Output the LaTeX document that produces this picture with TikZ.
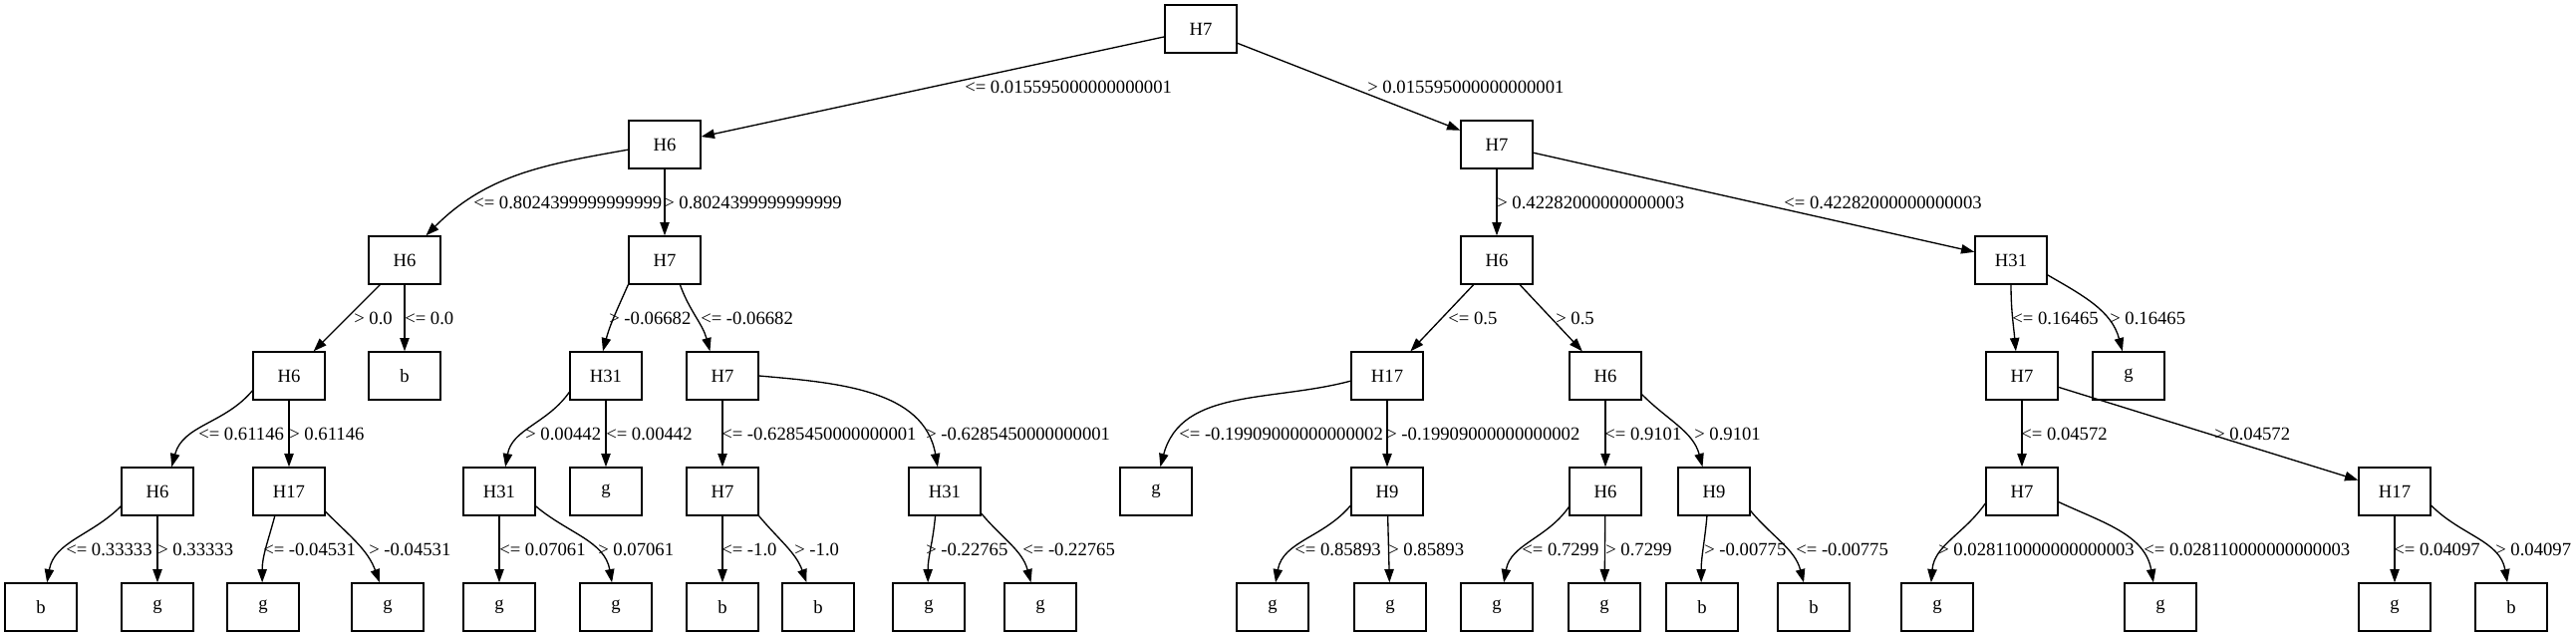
\documentclass[tikz,border=0pt]{standalone}
\usepackage{fontspec}
\setmainfont{Liberation Serif}
\usetikzlibrary{arrows.meta}

\begin{document}
\begin{tikzpicture}[x=0.75pt, y=0.75pt, box/.style={draw, rectangle, minimum width=54pt, minimum height=36pt, inner sep=0pt, line width=1pt, font=\fontsize{14}{16}\selectfont}, lbl/.style={anchor=west, inner sep=0pt, font=\fontsize{14}{16}\selectfont}, arr/.style={draw, line width=1pt, -{Triangle[length=10pt, width=7pt]}}]

\useasboundingbox (0,0) rectangle (2585,-639);

% Nodes
\node[box] (a1) at (1205,-29) {H7};

\node[box] (b1) at (667,-145) {H6};
\node[box] (b2) at (1502,-145) {H7};

\node[box] (c1) at (406,-261) {H6};
\node[box] (c2) at (667,-261) {H7};
\node[box] (c3) at (1502,-261) {H6};
\node[box] (c4) at (2018,-261) {H31};

\node[box] (d1) at (290,-377) {H6};
\node[box] (d2) at (406,-377) {b};
\node[box] (d3) at (608,-377) {H31};
\node[box] (d4) at (725,-377) {H7};
\node[box] (d5) at (1392,-377) {H17};
\node[box] (d6) at (1611,-377) {H6};
\node[box] (d7) at (2029,-377) {H7};
\node[box] (d8) at (2136,-377) {g};

\node[box] (e1) at (158,-493) {H6};
\node[box] (e2) at (290,-493) {H17};
\node[box] (e3) at (501,-493) {H31};
\node[box] (e4) at (608,-493) {g};
\node[box] (e5) at (725,-493) {H7};
\node[box] (e6) at (948,-493) {H31};
\node[box] (e7) at (1160,-493) {g};
\node[box] (e8) at (1392,-493) {H9};
\node[box] (e9) at (1611,-493) {H6};
\node[box] (e10) at (1720,-493) {H9};
\node[box] (e11) at (2029,-493) {H7};
\node[box] (e12) at (2403,-493) {H17};

\node[box] (f1) at (41,-609) {b};
\node[box] (f2) at (158,-609) {g};
\node[box] (f3) at (264,-609) {g};
\node[box] (f4) at (389,-609) {g};
\node[box] (f5) at (501,-609) {g};
\node[box] (f6) at (618,-609) {g};
\node[box] (f7) at (725,-609) {b};
\node[box] (f8) at (821,-609) {b};
\node[box] (f9) at (932,-609) {g};
\node[box] (f10) at (1044,-609) {g};
\node[box] (f11) at (1277,-609) {g};
\node[box] (f12) at (1395,-609) {g};
\node[box] (f13) at (1502,-609) {g};
\node[box] (f14) at (1610,-609) {g};
\node[box] (f15) at (1708,-609) {b};
\node[box] (f16) at (1820,-609) {b};
\node[box] (f17) at (1944,-609) {g};
\node[box] (f18) at (2168,-609) {g};
\node[box] (f19) at (2403,-609) {g};
\node[box] (f20) at (2520,-609) {b};

% Arrows
\draw[arr] (a1) -- (b1);
\draw[arr] (a1) -- (b2);

\draw[arr] (b1.188) to[out=190,in=45] (c1.49);
\draw[arr] (b1) -- (c2);
\draw[arr] (b2) -- (c3);
\draw[arr] (b2) -- (c4);

\draw[arr] (c1) -- (d1);
\draw[arr] (c1) -- (d2);
\draw[arr] (c2.south west) to[out=246,in=75] (d3.97);
\draw[arr] (c2.-58) to[out=-70,in=105] (d4.117);
\draw[arr] (c3) -- (d5);
\draw[arr] (c3) -- (d6);
\draw[arr] (c4.south) to[out=-90,in=95] (d7.104);
\draw[arr] (c4.-22) to[out=-30,in=105] (d8.104);

\draw[arr] (d1.202) to[out=230,in=75] (e1.60);
\draw[arr] (d1) -- (e2);
\draw[arr] (d3.204) to[out=235,in=80] (e3.76);
\draw[arr] (d3) -- (e4);
\draw[arr] (d4) -- (e5);
\draw[arr] (d4.0) to[out=-5,in=100] (e6.106);
\draw[arr] (d5.188) to[out=195,in=75] (e7.80);
\draw[arr] (d5) -- (e8);
\draw[arr] (d6) -- (e9);
\draw[arr] (d6.-27) to[out=-45,in=105] (e10.115);
\draw[arr] (d7) -- (e11);
\draw[arr] (d7) -- (e12);

\draw[arr] (e1.202) to[out=225,in=80] (f1.76);
\draw[arr] (e1) -- (f2);
\draw[arr] (e2.240) to[out=255,in=90] (f3.92);
\draw[arr] (e2.-29) to[out=-45,in=110] (f4.108);
\draw[arr] (e3) -- (f5);
\draw[arr] (e3.-22) to[out=-40,in=100] (f6.99);
\draw[arr] (e5) -- (f7);
\draw[arr] (e5.south east) to[out=-50,in=110] (f8.115);
\draw[arr] (e6.249) to[out=-95,in=90] (f9.92);
\draw[arr] (e6.-31) to[out=-50,in=105] (f10.111);
\draw[arr] (e8.201) to[out=230,in=80] (f11.83);
\draw[arr] (e8) -- (f12);
\draw[arr] (e9.203) to[out=235,in=80] (f13.74);
\draw[arr] (e9) -- (f14);
\draw[arr] (e10.254) to[out=-95,in=90] (f15.92);
\draw[arr] (e10.-28) to[out=-50,in=105] (f16.112);
\draw[arr] (e11.198) to[out=235,in=85] (f17.104);
\draw[arr] (e11.-16) to[out=-25,in=100] (f18.106);
\draw[arr] (e12) -- (f19);
\draw[arr] (e12.-21) to[out=-45,in=100] (f20.99);

% Labels
\node[lbl] (tb1) at (968,-87) {<= 0.015595000000000001};
\node[lbl] (tb2) at (1372,-87) {> 0.015595000000000001};

\node[lbl] (tc1) at (475,-203) {<= 0.8024399999999999};
\node[lbl] (tc2) at (666,-203) {> 0.8024399999999999};
\node[lbl] (tc3) at (1502,-203) {> 0.42282000000000003};
\node[lbl] (tc4) at (1790,-203) {<= 0.42282000000000003};

\node[lbl] (td1) at (355,-319) {> 0.0};
\node[lbl] (td2) at (406,-319) {<= 0.0};
\node[lbl] (td3) at (611,-319) {> -0.06682};
\node[lbl] (td4) at (703,-319) {<= -0.06682};
\node[lbl] (td5) at (1453,-319) {<= 0.5};
\node[lbl] (td6) at (1561,-319) {> 0.5};
\node[lbl] (td7) at (2019,-319) {<= 0.16465};
\node[lbl] (td8) at (2117,-319) {> 0.16465};

\node[lbl] (te1) at (199,-435) {<= 0.61146};
\node[lbl] (te2) at (290,-435) {> 0.61146};
\node[lbl] (te3) at (527,-435) {> 0.00442};
\node[lbl] (te4) at (608,-435) {<= 0.00442};
\node[lbl] (te5) at (724,-435) {<= -0.6285450000000001};
\node[lbl] (te6) at (929,-435) {> -0.6285450000000001};
\node[lbl] (te7) at (1183,-435) {<= -0.19909000000000002};
\node[lbl] (te8) at (1391,-435) {> -0.19909000000000002};
\node[lbl] (te9) at (1610,-435) {<= 0.9101};
\node[lbl] (te10) at (1700,-435) {> 0.9101};
\node[lbl] (te11) at (2028,-435) {<= 0.04572};
\node[lbl] (te12) at (2222,-435) {> 0.04572};

\node[lbl] (tf1) at (66,-551) {<= 0.33333};
\node[lbl] (tf2) at (158,-551) {> 0.33333};
\node[lbl] (tf3) at (264,-551) {<= -0.04531};
\node[lbl] (tf4) at (370,-551) {> -0.04531};
\node[lbl] (tf5) at (501,-551) {<= 0.07061};
\node[lbl] (tf6) at (600,-551) {> 0.07061};
\node[lbl] (tf7) at (724,-551) {<= -1.0};
\node[lbl] (tf8) at (797,-551) {> -1.0};
\node[lbl] (tf9) at (929,-551) {> -0.22765};
\node[lbl] (tf10) at (1026,-551) {<= -0.22765};
\node[lbl] (tf11) at (1299,-551) {<= 0.85893};
\node[lbl] (tf12) at (1393,-551) {> 0.85893};
\node[lbl] (tf13) at (1527,-551) {<= 0.7299};
\node[lbl] (tf14) at (1611,-551) {> 0.7299};
\node[lbl] (tf15) at (1710,-551) {> -0.00775};
\node[lbl] (tf16) at (1802,-551) {<= -0.00775};
\node[lbl] (tf17) at (1945,-551) {> 0.028110000000000003};
\node[lbl] (tf18) at (2151,-551) {<= 0.028110000000000003};
\node[lbl] (tf19) at (2402,-551) {<= 0.04097};
\node[lbl] (tf20) at (2504,-551) {> 0.04097};

\end{tikzpicture}
\end{document}
